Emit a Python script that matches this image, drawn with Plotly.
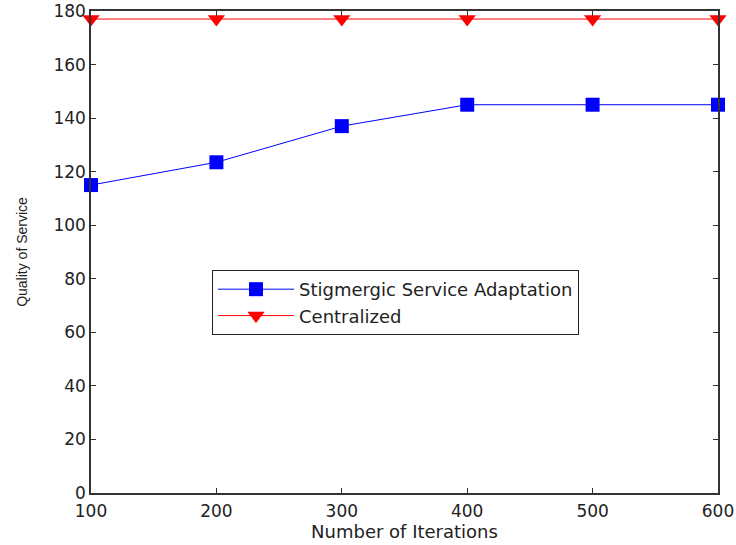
import plotly.graph_objects as go

iterations = [100, 200, 300, 400, 500, 600]
stigmergic = [115, 123.5, 137, 145, 145, 145]
centralized = [177, 177, 177, 177, 177, 177]
x_ticks = [100, 200, 300, 400, 500, 600]
y_ticks = [0, 20, 40, 60, 80, 100, 120, 140, 160, 180]

wide_font = "DejaVu Sans, Verdana, sans-serif"
narrow_font = "Liberation Sans, Arial, sans-serif"

fig = go.Figure()
fig.add_trace(go.Scatter(
    x=iterations, y=stigmergic, mode="lines+markers",
    name="Stigmergic Service Adaptation",
    line=dict(color="#0000ff", width=1),
    marker=dict(symbol="square", size=14, color="#0000ff"),
    cliponaxis=False,
))
fig.add_trace(go.Scatter(
    x=iterations, y=centralized, mode="lines+markers",
    name="Centralized",
    line=dict(color="#ff0000", width=1),
    marker=dict(symbol="triangle-down", size=15, color="#ff0000"),
    cliponaxis=False,
))

axis_common = dict(
    showgrid=False, zeroline=False, showline=True, linecolor="#333333",
    linewidth=1.5, mirror="ticks", ticks="inside", ticklen=5,
    tickcolor="#333333", automargin=False,
    tickfont=dict(family=wide_font, size=17, color="#222222"),
)

fig.update_layout(
    width=736, height=545,
    margin=dict(l=91, r=18, t=11, b=52),
    paper_bgcolor="white", plot_bgcolor="white",
    font=dict(family=wide_font, color="#222222"),
    showlegend=True,
    legend=dict(
        x=0.193, y=0.4627, xanchor="left", yanchor="top",
        bordercolor="#222222", borderwidth=1, bgcolor="white",
        font=dict(family=wide_font, size=18),
        tracegroupgap=0, itemwidth=76,
    ),
    xaxis=dict(range=[100, 600], tickvals=x_ticks, ticklabelstandoff=2,
               title=dict(text="Number of Iterations",
                          font=dict(family=wide_font, size=18), standoff=0),
               **axis_common),
    yaxis=dict(range=[0, 180], tickvals=y_ticks,
               title=dict(text="Quality of Service",
                          font=dict(family=narrow_font, size=14), standoff=22),
               **axis_common),
)

fig.write_html("out.html")
